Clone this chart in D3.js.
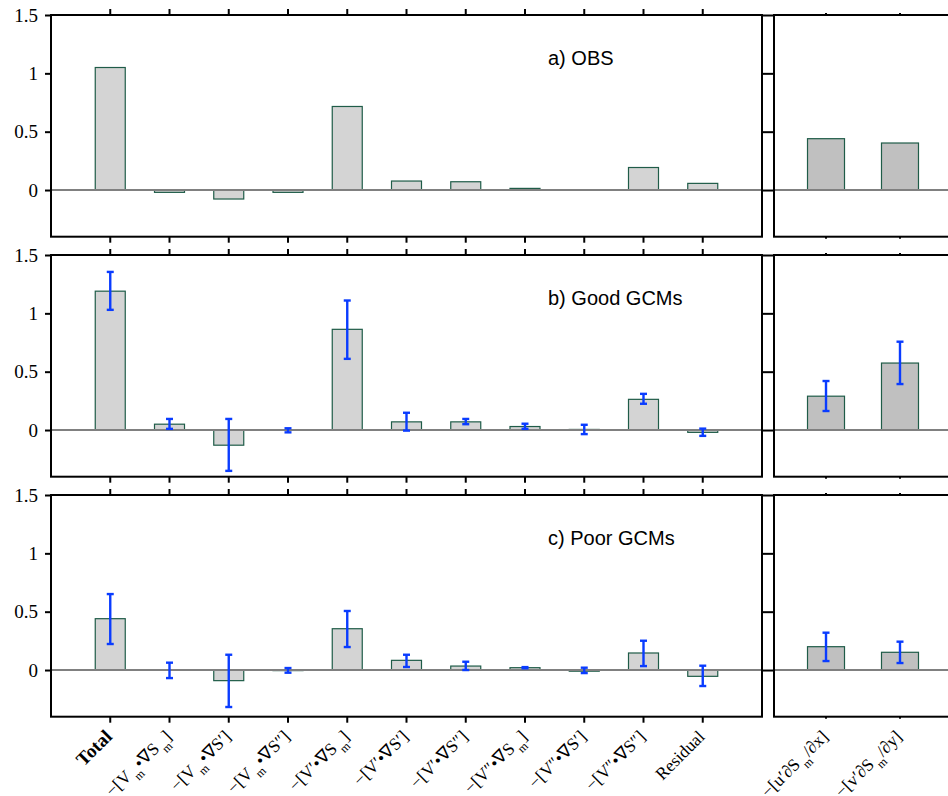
<!DOCTYPE html>
<html>
<head>
<meta charset="utf-8">
<script src="https://cdn.jsdelivr.net/npm/d3@7"></script>
<style>
  body { margin: 0; background: #fff; }
  svg { display: block; }
</style>
</head>
<body>
<div id="chart"></div>
<script>
// budget terms (left block) and eddy terms (right block)
const terms = ["Total", "VmSm", "VmS1", "VmS2", "V1Sm", "V1S1", "V1S2", "V2Sm", "V2S1", "V2S2", "Residual"];
const eddyTerms = ["uS", "vS"];

// tick labels, written as pieces: [text, isSubscript]
const termLabels = [
  [["Total", 0]],
  [["\u2212[V", 0], ["m", 1], ["\u2022\u2207S", 0], ["m", 1], ["]", 0]],
  [["\u2212[V", 0], ["m", 1], ["\u2022\u2207S\u2032]", 0]],
  [["\u2212[V", 0], ["m", 1], ["\u2022\u2207S\u2033]", 0]],
  [["\u2212[V\u2032\u2022\u2207S", 0], ["m", 1], ["]", 0]],
  [["\u2212[V\u2032\u2022\u2207S\u2032]", 0]],
  [["\u2212[V\u2032\u2022\u2207S\u2033]", 0]],
  [["\u2212[V\u2033\u2022\u2207S", 0], ["m", 1], ["]", 0]],
  [["\u2212[V\u2033\u2022\u2207S\u2032]", 0]],
  [["\u2212[V\u2033\u2022\u2207S\u2033]", 0]],
  [["Residual", 0]]
];
const eddyLabels = [
  [["\u2212[u\u2032\u2202S", 0], ["m", 1], ["/\u2202x]", 0]],
  [["\u2212[v\u2032\u2202S", 0], ["m", 1], ["/\u2202y]", 0]]
];

const yTicks = [0, 0.5, 1, 1.5];

// a) OBS
const obsValues = [1.05, -0.02, -0.077, -0.02, 0.716, 0.077, 0.071, 0.014, 0, 0.193, 0.057];
const obsEddy = [0.44, 0.403];

// b) Good GCMs
const goodValues = [1.19, 0.05, -0.13, 0, 0.863, 0.07, 0.07, 0.03, 0.005, 0.263, -0.02];
const goodLow = [1.03, 0.01, -0.35, -0.02, 0.61, -0.005, 0.05, 0.01, -0.035, 0.225, -0.05];
const goodHigh = [1.355, 0.095, 0.095, 0.015, 1.11, 0.148, 0.095, 0.054, 0.045, 0.31, 0.012];
const goodEddy = [0.29, 0.574];
const goodEddyLow = [0.163, 0.394];
const goodEddyHigh = [0.42, 0.757];

// c) Poor GCMs
const poorValues = [0.44, 0, -0.091, -0.005, 0.354, 0.083, 0.034, 0.02, -0.01, 0.146, -0.054];
const poorLow = [0.223, -0.069, -0.317, -0.023, 0.197, 0.026, 0, 0.015, -0.026, 0.034, -0.137];
const poorHigh = [0.651, 0.063, 0.131, 0.017, 0.506, 0.131, 0.071, 0.025, 0.02, 0.251, 0.037];
const poorEddy = [0.2, 0.152];
const poorEddyLow = [0.077, 0.06];
const poorEddyHigh = [0.32, 0.243];

const panels = [
  {title: "a) OBS", top: 15, vals: obsValues, eddy: obsEddy},
  {title: "b) Good GCMs", top: 255, vals: goodValues, lo: goodLow, hi: goodHigh,
    eddy: goodEddy, eLo: goodEddyLow, eHi: goodEddyHigh},
  {title: "c) Poor GCMs", top: 495, vals: poorValues, lo: poorLow, hi: poorHigh,
    eddy: poorEddy, eLo: poorEddyLow, eHi: poorEddyHigh}
];

const W = 948, H = 796,
  panelH = 221.7,
  leftX0 = 51, leftX1 = 762,
  rightX0 = 774, rightX1 = 952,
  barW = 30, eddyBarW = 37,
  serif = "'Liberation Serif', 'Times New Roman', serif",
  sans = "'Liberation Sans', Arial, Helvetica, sans-serif",
  errColor = "#0a3cff",
  barStroke = "#1f5c48";

const svg = d3.select("#chart").append("svg").attr("width", W).attr("height", H);

const xLeft = d3.scalePoint().domain(terms).range([leftX0, leftX1]).padding(1);
const xRight = d3.scalePoint().domain(eddyTerms).range([rightX0, rightX1]).padding(0.703);

function drawBlock(g, x, keys, vals, lo, hi, y, x0, x1, bw, fill, tickLen) {
  // bars
  g.selectAll("rect.bar").data(keys).join("rect")
    .attr("class", "bar")
    .attr("x", d => x(d) - bw / 2)
    .attr("y", (d, i) => y(Math.max(0, vals[i])))
    .attr("width", bw)
    .attr("height", (d, i) => Math.abs(y(vals[i]) - y(0)))
    .attr("fill", fill)
    .attr("stroke", barStroke)
    .attr("stroke-width", 1.2);
  // zero line
  g.append("line")
    .attr("x1", x0).attr("x2", x1)
    .attr("y1", y(0)).attr("y2", y(0))
    .attr("stroke", "#808080").attr("stroke-width", 2);
  // error bars
  if (lo) {
    const eg = g.selectAll("g.err").data(keys).join("g").attr("class", "err")
      .attr("stroke", errColor).attr("stroke-width", 2.4);
    eg.append("line")
      .attr("x1", d => x(d)).attr("x2", d => x(d))
      .attr("y1", (d, i) => y(lo[i])).attr("y2", (d, i) => y(hi[i]));
    eg.append("line")
      .attr("x1", d => x(d) - 3.5).attr("x2", d => x(d) + 3.5)
      .attr("y1", (d, i) => y(lo[i])).attr("y2", (d, i) => y(lo[i]));
    eg.append("line")
      .attr("x1", d => x(d) - 3.5).attr("x2", d => x(d) + 3.5)
      .attr("y1", (d, i) => y(hi[i])).attr("y2", (d, i) => y(hi[i]));
  }
  // x ticks, top and bottom, pointing out
  const yTop = y.range()[1], yBot = y.range()[0];
  g.selectAll("line.xt").data(keys).join("line")
    .attr("class", "xt")
    .attr("x1", d => x(d)).attr("x2", d => x(d))
    .attr("y1", yTop).attr("y2", yTop - tickLen)
    .attr("stroke", "#000").attr("stroke-width", 2);
  g.selectAll("line.xb").data(keys).join("line")
    .attr("class", "xb")
    .attr("x1", d => x(d)).attr("x2", d => x(d))
    .attr("y1", yBot).attr("y2", yBot + tickLen)
    .attr("stroke", "#000").attr("stroke-width", 2);
}

panels.forEach(function (p) {
  const y = d3.scaleLinear().domain([-0.4, 1.5]).range([p.top + panelH, p.top]);
  const g = svg.append("g");

  drawBlock(g.append("g"), xLeft, terms, p.vals, p.lo, p.hi, y, leftX0, leftX1, barW, "#d4d4d4", 6);
  drawBlock(g.append("g"), xRight, eddyTerms, p.eddy, p.eLo, p.eHi, y, rightX0, rightX1, eddyBarW, "#c0c0c0", 2);

  // left y axis with labels
  const yl = g.append("g").attr("transform", "translate(" + leftX0 + ",0)")
    .call(d3.axisLeft(y).tickValues(yTicks).tickSize(6).tickPadding(7).tickFormat(d3.format("")))
    .attr("font-family", serif).attr("font-size", 19);
  yl.select(".domain").remove();
  yl.selectAll("line").attr("stroke", "#000").attr("stroke-width", 2);
  yl.selectAll("text").style("font-family", serif).style("font-size", "19px").attr("fill", "#000");

  // right side of left block: ticks outward
  const yr = g.append("g").attr("transform", "translate(" + leftX1 + ",0)")
    .call(d3.axisRight(y).tickValues(yTicks).tickSize(6).tickFormat(""));
  yr.select(".domain").remove();
  yr.selectAll("line").attr("stroke", "#000").attr("stroke-width", 2);

  // left side of the eddy block
  const ye = g.append("g").attr("transform", "translate(" + rightX0 + ",0)")
    .call(d3.axisLeft(y).tickValues(yTicks).tickSize(6).tickFormat(""));
  ye.select(".domain").remove();
  ye.selectAll("line").attr("stroke", "#000").attr("stroke-width", 2);

  // frames
  g.append("rect")
    .attr("x", leftX0).attr("y", p.top).attr("width", leftX1 - leftX0).attr("height", panelH)
    .attr("fill", "none").attr("stroke", "#000").attr("stroke-width", 2);
  g.append("rect")
    .attr("x", rightX0).attr("y", p.top).attr("width", rightX1 - rightX0).attr("height", panelH)
    .attr("fill", "none").attr("stroke", "#000").attr("stroke-width", 2);

  // panel title
  g.append("text")
    .attr("x", 548).attr("y", y(1.5) + 50)
    .style("font-family", sans).style("font-size", "20px")
    .text(p.title);
});

// rotated category labels under the last panel
const labelY = panels[2].top + panelH + 21;
function addLabels(x, keys, labels) {
  keys.forEach(function (k, i) {
    const t = svg.append("text")
      .attr("transform", "translate(" + (x(k) + 3) + "," + labelY + ") rotate(-45)")
      .attr("text-anchor", "end")
      .style("font-family", serif).style("font-size", "17.5px");
    if (k === "Total") t.style("font-weight", "bold").style("font-size", "19px");
    let shifted = false;
    labels[i].forEach(function (part) {
      const ts = t.append("tspan").text(part[0]);
      if (part[1]) {
        ts.attr("dx", 2).attr("dy", 7).style("font-size", "12px");
        shifted = true;
      } else if (shifted) {
        ts.attr("dy", -7);
        shifted = false;
      }
    });
  });
}
addLabels(xLeft, terms, termLabels);
addLabels(xRight, eddyTerms, eddyLabels);
</script>
</body>
</html>
